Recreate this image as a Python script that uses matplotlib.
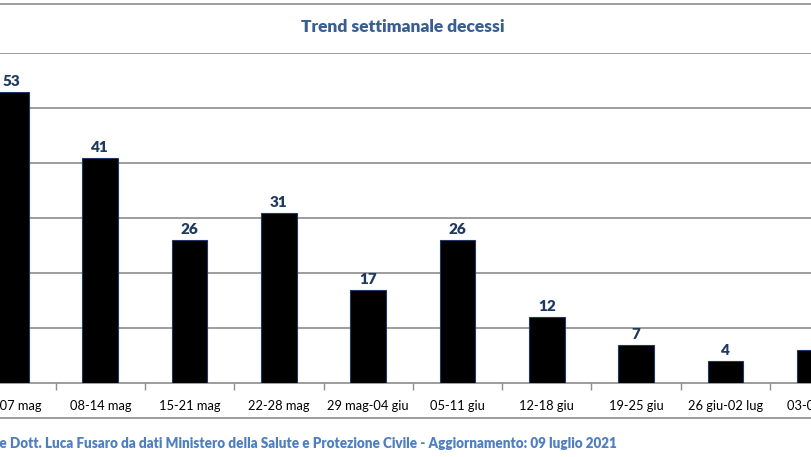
import numpy as np
import matplotlib.pyplot as plt
from matplotlib.lines import Line2D

plt.rcParams['font.family'] = ['Lato', 'DejaVu Sans']

settimane = ['01-07 mag', '08-14 mag', '15-21 mag', '22-28 mag', '29 mag-04 giu',
             '05-11 giu', '12-18 giu', '19-25 giu', '26 giu-02 lug', '03-09 lug']
decessi = [53, 41, 26, 31, 17, 26, 12, 7, 4, 6]

W, H = 812, 457
fig = plt.figure(figsize=(W / 100, H / 100), dpi=100)

# the plot area runs past both figure edges (chart is cropped)
step = 89.3
left_px = 11 - 0.5 * step
ax = fig.add_axes([left_px / W, (H - 383) / H, len(settimane) * step / W, (383 - 53) / H])

x = np.arange(len(settimane))
ax.bar(x, decessi, width=0.4, color='black', edgecolor='#1F3864', linewidth=0.8, zorder=3)
for xi, v in zip(x, decessi):
    ax.text(xi, v + 0.7, str(v), ha='center', va='bottom', fontsize=11,
            fontweight='heavy', color='#1F3A5F')

ax.set_xlim(-0.5, len(settimane) - 0.5)
ax.set_ylim(0, 60)
ax.set_yticks(np.arange(10, 61, 10))
ax.yaxis.grid(True, color='#8C8C8C', linewidth=1.2, zorder=0)
ax.tick_params(axis='y', left=False, labelleft=False)

ax.set_xticks(x)
ax.set_xticklabels(settimane, fontsize=9.3, color='black')
ax.set_xticks(np.arange(-0.5, len(settimane), 1), minor=True)
ax.tick_params(axis='x', which='major', length=0, pad=12)
ax.tick_params(axis='x', which='minor', length=5, color='#8C8C8C', width=1)

for s in ['top', 'left', 'right']:
    ax.spines[s].set_visible(False)
ax.spines['bottom'].set_color('#8C8C8C')
ax.spines['bottom'].set_linewidth(1.2)

# chart frame lines
for yp in [4, 418]:
    fig.add_artist(Line2D([0, 1], [(H - yp) / H] * 2, transform=fig.transFigure,
                          color='#8C8C8C', linewidth=1.2))

fig.text(403 / W, (H - 27) / H, 'Trend settimanale decessi', ha='center', va='center',
         fontsize=12.5, fontweight='heavy', color='#3B5E91')
fig.text(617 / W, (H - 443) / H,
         'Elaborazione Dott. Luca Fusaro da dati Ministero della Salute e Protezione Civile - Aggiornamento: 09 luglio 2021',
         ha='right', va='center', fontsize=9.75, fontweight='heavy', color='#4F7FBF')

fig.savefig('out.png', dpi=100)
